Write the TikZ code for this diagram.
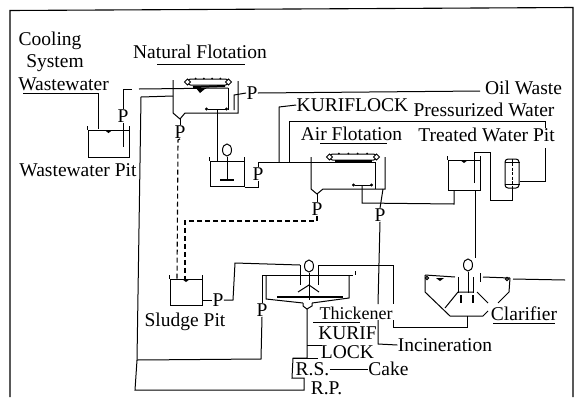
\documentclass[tikz,border=0pt]{standalone}
\usepackage{fontspec}
\setmainfont{Liberation Serif}
\usetikzlibrary{arrows.meta, calc, shapes.geometric}
\tikzset{
  every picture/.style={line width=1pt},
  lab/.style={font=\fontsize{19.5}{21}\selectfont, inner sep=0pt},
  pump/.style={font=\fontsize{19.5}{21}\selectfont, inner sep=0pt},
  tank/.style={draw, inner sep=0pt},
  vessel/.style={draw, rounded corners=3pt, inner sep=0pt, minimum width=14pt, minimum height=29pt},
  skim/.style={draw, rounded corners=2.5pt, inner sep=0pt, minimum height=6pt},
  rotor/.style={draw, ellipse, inner sep=0pt, minimum width=9pt, minimum height=12pt},
  sludge/.style={line width=1.1pt, dash pattern=on 5pt off 3pt},
  paddle/.style={line width=2.2pt},
  arm/.style={{Circle[length=3pt]}-{Circle[length=3pt]}},
}
\newcommand{\waterline}[3]{% x1, x2, y, with the small mark in the middle
  \draw (#1,#3) -- (#2,#3);
  \fill ({(#1+#2)/2-4},#3) -- ({(#1+#2)/2+4},#3) -- ({(#1+#2)/2},#3+3) -- cycle;
}
\begin{document}
\begin{tikzpicture}[x=1pt, y=-1pt]
  \useasboundingbox (0,0) rectangle (580,397);
  % frame
  \draw[line width=1.1pt] (10,397) -- (10,10.5) -- (573,7.5) -- (573,397);
  % ---- labels
  \node[lab] (cool) at (50,41) {Cooling};
  \node[lab] (sys) at (55,63) {System};
  \node[lab] (ww) at (63.5,84) {Wastewater};
  \node[lab] (wwpit) at (78,170) {Wastewater Pit};
  \node[lab] (natfl) at (200,52) {Natural Flotation};
  \node[lab] (oil) at (523.5,88) {Oil Waste};
  \node[lab] (kuri) at (352.5,105) {KURIFLOCK};
  \node[lab] (press) at (484,110) {Pressurized Water};
  \node[lab] (airfl) at (351.5,134) {Air Flotation};
  \node[lab] (treated) at (486.5,135) {Treated Water Pit};
  \node[lab] (sludgelab) at (185,322) {Sludge Pit};
  \node[lab, font=\fontsize{18}{20}\selectfont] (thick) at (356,313) {Thickener};
  \node[lab] (kurif) at (347.5,333) {KURIF};
  \node[lab] (lock) at (347.5,352) {LOCK};
  \node[lab] (rs) at (312.5,369) {R.S.};
  \node[lab] (cake) at (388.5,369) {Cake};
  \node[lab] (rp) at (326.5,388) {R.P.};
  \node[lab] (incin) at (445,345) {Incineration};
  \node[lab] (clar) at (524,314) {Clarifier};
  % underlines
  \foreach \xa/\xb/\yy in {23/98/93, 157/245/64, 320/387/143, 313/360/322, 493/555/323}
    \draw (\xa,\yy) -- (\xb,\yy);
  % ---- pumps
  \foreach \n/\xx/\yy in {a/123/116, b/180/132, c/252/93, d/258/174, e/317/209, f/380/215, g/218/300, h/262/310}
    \node[pump] (p\n) at (\xx,\yy) {P};
  % ---- pits
  \node[tank, minimum width=41pt, minimum height=27pt] (wpit) at (108.5,143.5) {};
  \node[tank, minimum width=32pt, minimum height=26pt] (spit) at (186,292) {};
  \node[tank, minimum width=34pt, minimum height=25pt] (mix) at (227,174) {};
  \node[tank, minimum width=32pt, minimum height=30pt] (tpit) at (464,175) {};
  \foreach \t in {wpit,spit,tpit,mix} {
    \draw (\t.north west) -- ++(0,-4);
    \draw (\t.north east) -- ++(0,-4);
  }
  \waterline{89}{128}{130}
  \waterline{171}{201}{279}
  \waterline{449}{479}{160}
  \node[vessel] (filt) at (512,173.5) {};
  \draw[dash pattern=on 3pt off 1.5pt] (filt.north) -- (filt.south);
  \draw ($(filt.north west)+(0,4)$) -- ($(filt.north east)+(0,4)$);
  \draw ($(filt.south west)+(0,-4)$) -- ($(filt.south east)+(0,-4)$);
  % ---- natural flotation
  \node[skim, minimum width=40pt] (nskim) at (208,82) {};
  \coordinate (ncone) at (180,119);
  \draw (173,80) -- (173,113) -- (ncone) -- (185,113) -- (238,113) -- (238,81);
  \draw (228,88) -- (228,110);
  \draw[line width=2pt] (193,87) -- (225,86);
  \fill (196,88) -- (206,88) -- (200,93) -- cycle;
  \draw (234,110) -- (234,95) -- (pc.west);
  \draw[arm] (205,109) -- (228,109);
  \coordinate (oilend) at (480,91);
  \draw (pc.east) -- (oilend);
  \draw (ncone) -- (pb.north);
  % ---- air flotation
  \node[skim, minimum width=46pt] (askim) at (353,157) {};
  \foreach \s in {nskim,askim} {
    \draw[fill=white] (\s.west) ++(-3,0) -- ++(3,-3) -- ++(3,3) -- ++(-3,3) -- cycle;
    \draw[fill=white] (\s.east) ++(3,0) -- ++(-3,-3) -- ++(-3,3) -- ++(3,3) -- cycle;
    \foreach \k in {0.2,0.4,0.6,0.8} \fill ($(\s.north west)!\k!(\s.north east)$) circle (1pt);
  }
  \coordinate (acone) at (317,194);
  \draw (311,157) -- (311,189) -- (acone) -- (323,189) -- (385,189) -- (385,157);
  \draw (258,162) -- (375,162) -- (375,189);
  \draw[arm] (352,185) -- (373,185);
  \draw[line width=1.6pt] (335,161) -- (372,161);
  \draw (acone) -- (pe.north);
  \draw (383,189) -- (pf.north);
  % ---- mixing tank and stirrer
  \node[rotor] (rmix) at (227,150) {};
  \draw (rmix.south) -- (227,180);
  \draw[line width=1.6pt] (220,180) -- (234,180);
  \draw (217,110) -- (217,162);
  \draw (mix.south east) -| (pd.south);
  \draw (pd.north) -- (258,162);
  % ---- thickener
  \node[rotor] (rthick) at (309,266) {};
  \draw (rthick.south) -- (309,300);
  \draw (298,292) -- (309,285) -- (319,292);
  \draw (262,275) -- (353,275);
  \draw (355,271) -- (355,275);
  \draw (266,275) -- (266,299) -- (303,303);
  \draw (349,275) -- (349,298) -- (312,303);
  \draw[line width=2pt] (277,297) -- (343,297);
  \draw (303,303) -- (303,306) -- (307,309) -- (312,306) -- (312,303);
  \draw (300,265) -- (300,285) (318,265) -- (318,285);
  % ---- clarifier
  \node[rotor] (rclar) at (468,265) {};
  \draw (rclar.south) -- (468,293);
  \draw (425,275) -- (455,277) (483,277) -- (510,278);
  \draw (425,275) -- (425,292) -- (450,316) -- (483,316) -- (488,311);
  \draw (510,278) -- (509,292) -- (498,303);
  \draw (445,308) -- (458,292) -- (473,292) (477,292) -- (488,303);
  \foreach \xx in {458,473} \draw (\xx,277) -- (\xx,293);
  \draw (480,273) -- (480,282);
  \foreach \xx in {461,473} \draw[paddle] (\xx,295) -- (\xx,303);
  \foreach \xx/\yy in {427/278, 507/279} \draw (\xx,\yy) circle (1.6pt);
  \fill (436,278) -- (444,278) -- (440,281) -- cycle;
  \draw (513,279) -- (565,280);
  % ---- pipes
  \coordinate (wwend) at (98,93);
  \draw (wwend) -- (98,129);
  \draw (pa.south) -- (123,147);
  \draw (pa.north) -- (123,89) -- (132,89);
  \draw (139,89) -- (228,88);
  \draw[sludge] (pb.south) -- (178,140) -- (177,279);
  \draw[sludge] (pe.south) -- (317,221) -- (185,221) -- (185,279);
  \draw (spit.east |- pg) -- (pg.west);
  \draw (pg.east) -- (233,300) -- (235,263) -- (300,265);
  \draw (318,265) -- (393,265) -- (393,304);
  \draw (pf.south) -- (378,304);
  \draw (378,320) -- (378,344) -- (incin.west);
  \draw (393,320) -- (393,327) -- (467,327) -- (467,316);
  \draw (262,275) -- (ph.north);
  \draw (ph.south) -- (261,359) -- (137,360);
  % return line
  \draw (307,309) -- (307,358) -- (293,358) -- (292,378) -- (304,378) -- (304,390) -- (135,390) -- (137,360) -- (141,97) -- (173,96);
  \draw (307,345) -- (322,345);
  \draw (293,358) -- (318,358);
  \draw (rs.east) -- (cake.west);
  % kuriflock and pressurized water
  \draw (279,162) -- (279,107) -- (kuri.west);
  \draw (289,162) -- (289,121) -- (545,121) -- (545,128);
  \draw (545,148) -- (545,181) -- (filt.east |- 0,181);
  % treated water
  \draw (362,185) -- (362,203) -- (454,204) -- (454,190);
  \draw (474,183) -- (474,152) -- (490,152) -- (490,200) -- (512,200) -- (filt.south);
  \draw (475,190) -- (475,258);
\end{tikzpicture}
\end{document}
